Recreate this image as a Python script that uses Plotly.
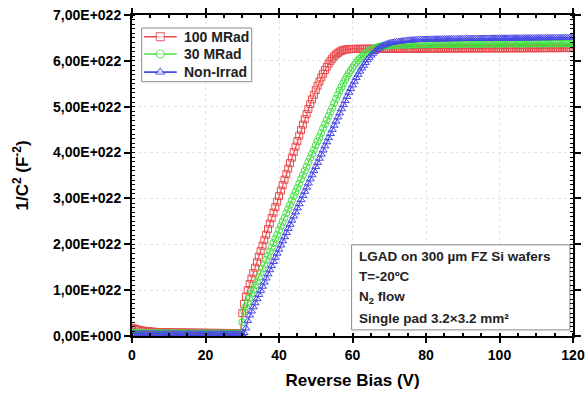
import numpy as np
import plotly.graph_objects as go

# Reverse bias sweep, 0.5 V steps from 0 to 120 V
bias_start, bias_step = 0.0, 0.5

# 1/C^2 in units of 1e22 F^-2, one row of ten points per 5 V
inv_c2_100mrad = [
    0.180, 0.165, 0.150, 0.140, 0.130, 0.122, 0.115, 0.110, 0.105, 0.100,
    0.097, 0.094, 0.091, 0.089, 0.087, 0.085, 0.083, 0.082, 0.081, 0.080,
    0.079, 0.078, 0.077, 0.076, 0.076, 0.075, 0.075, 0.074, 0.074, 0.073,
    0.073, 0.072, 0.072, 0.071, 0.071, 0.070, 0.070, 0.070, 0.069, 0.069,
    0.069, 0.068, 0.068, 0.068, 0.068, 0.067, 0.067, 0.067, 0.067, 0.066,
    0.066, 0.066, 0.066, 0.066, 0.065, 0.065, 0.065, 0.065, 0.065, 0.065,
    0.50, 0.70, 0.86, 1.00, 1.13, 1.25, 1.37, 1.49, 1.61, 1.73,
    1.85, 1.97, 2.09, 2.21, 2.33, 2.45, 2.57, 2.69, 2.81, 2.93,
    3.05, 3.17, 3.29, 3.41, 3.53, 3.65, 3.77, 3.89, 4.01, 4.13,
    4.25, 4.37, 4.49, 4.61, 4.73, 4.84, 4.95, 5.06, 5.16, 5.26,
    5.36, 5.46, 5.55, 5.64, 5.72, 5.80, 5.87, 5.94, 6.00, 6.05,
    6.10, 6.14, 6.17, 6.20, 6.22, 6.235, 6.245, 6.250, 6.255, 6.258,
    6.260, 6.260, 6.261, 6.261, 6.262, 6.262, 6.262, 6.263, 6.263, 6.263,
    6.264, 6.264, 6.264, 6.265, 6.265, 6.265, 6.265, 6.266, 6.266, 6.266,
    6.266, 6.266, 6.267, 6.267, 6.267, 6.267, 6.267, 6.268, 6.268, 6.268,
    6.268, 6.268, 6.268, 6.269, 6.269, 6.269, 6.269, 6.269, 6.269, 6.270,
    6.270, 6.270, 6.270, 6.270, 6.270, 6.271, 6.271, 6.271, 6.271, 6.271,
    6.271, 6.271, 6.272, 6.272, 6.272, 6.272, 6.272, 6.272, 6.272, 6.273,
    6.273, 6.273, 6.273, 6.273, 6.273, 6.273, 6.273, 6.274, 6.274, 6.274,
    6.274, 6.274, 6.274, 6.274, 6.274, 6.274, 6.275, 6.275, 6.275, 6.275,
    6.275, 6.275, 6.275, 6.275, 6.275, 6.276, 6.276, 6.276, 6.276, 6.276,
    6.276, 6.276, 6.276, 6.276, 6.277, 6.277, 6.277, 6.277, 6.277, 6.277,
    6.277, 6.277, 6.277, 6.278, 6.278, 6.278, 6.278, 6.278, 6.278, 6.278,
    6.278, 6.278, 6.279, 6.279, 6.279, 6.279, 6.279, 6.279, 6.279, 6.279,
    6.280,
]

inv_c2_30mrad = [
    0.070, 0.068, 0.066, 0.065, 0.064, 0.063, 0.062, 0.062, 0.061, 0.061,
    0.060, 0.060, 0.060, 0.059, 0.059, 0.059, 0.059, 0.058, 0.058, 0.058,
    0.058, 0.058, 0.057, 0.057, 0.057, 0.057, 0.057, 0.057, 0.056, 0.056,
    0.056, 0.056, 0.056, 0.056, 0.056, 0.055, 0.055, 0.055, 0.055, 0.055,
    0.055, 0.055, 0.055, 0.055, 0.054, 0.054, 0.054, 0.054, 0.054, 0.054,
    0.054, 0.054, 0.054, 0.054, 0.054, 0.053, 0.053, 0.053, 0.053, 0.053,
    0.30, 0.55, 0.64, 0.73, 0.83, 0.92, 1.01, 1.10, 1.19, 1.29,
    1.38, 1.47, 1.56, 1.66, 1.75, 1.84, 1.93, 2.03, 2.12, 2.21,
    2.31, 2.40, 2.49, 2.58, 2.68, 2.77, 2.86, 2.95, 3.05, 3.14,
    3.23, 3.32, 3.42, 3.51, 3.60, 3.69, 3.79, 3.88, 3.97, 4.06,
    4.16, 4.25, 4.34, 4.43, 4.53, 4.62, 4.71, 4.80, 4.89, 4.98,
    5.08, 5.17, 5.26, 5.35, 5.43, 5.51, 5.59, 5.66, 5.73, 5.79,
    5.85, 5.91, 5.96, 6.01, 6.05, 6.09, 6.13, 6.16, 6.19, 6.22,
    6.24, 6.26, 6.28, 6.29, 6.30, 6.31, 6.32, 6.325, 6.33, 6.335,
    6.338, 6.340, 6.342, 6.344, 6.346, 6.348, 6.350, 6.351, 6.352, 6.353,
    6.354, 6.355, 6.356, 6.357, 6.358, 6.358, 6.359, 6.360, 6.360, 6.361,
    6.361, 6.362, 6.362, 6.363, 6.363, 6.364, 6.364, 6.365, 6.365, 6.365,
    6.366, 6.366, 6.367, 6.367, 6.367, 6.368, 6.368, 6.368, 6.369, 6.369,
    6.369, 6.370, 6.370, 6.370, 6.371, 6.371, 6.371, 6.372, 6.372, 6.372,
    6.372, 6.373, 6.373, 6.373, 6.374, 6.374, 6.374, 6.374, 6.375, 6.375,
    6.375, 6.375, 6.376, 6.376, 6.376, 6.376, 6.377, 6.377, 6.377, 6.377,
    6.378, 6.378, 6.378, 6.378, 6.378, 6.379, 6.379, 6.379, 6.379, 6.380,
    6.380, 6.380, 6.380, 6.380, 6.381, 6.381, 6.381, 6.381, 6.381, 6.382,
    6.382, 6.382, 6.382, 6.382, 6.382, 6.383, 6.383, 6.383, 6.383, 6.383,
    6.384,
]

inv_c2_nonirrad = [
    0.050, 0.049, 0.048, 0.048, 0.047, 0.047, 0.047, 0.046, 0.046, 0.046,
    0.046, 0.046, 0.045, 0.045, 0.045, 0.045, 0.045, 0.045, 0.045, 0.044,
    0.044, 0.044, 0.044, 0.044, 0.044, 0.044, 0.044, 0.044, 0.043, 0.043,
    0.043, 0.043, 0.043, 0.043, 0.043, 0.043, 0.043, 0.043, 0.043, 0.043,
    0.043, 0.042, 0.042, 0.042, 0.042, 0.042, 0.042, 0.042, 0.042, 0.042,
    0.042, 0.042, 0.042, 0.042, 0.042, 0.042, 0.042, 0.042, 0.042, 0.042,
    0.042, 0.07, 0.17, 0.33, 0.45, 0.54, 0.63, 0.72, 0.81, 0.90,
    0.99, 1.08, 1.17, 1.26, 1.35, 1.44, 1.53, 1.62, 1.71, 1.80,
    1.89, 1.98, 2.07, 2.16, 2.25, 2.34, 2.43, 2.52, 2.61, 2.70,
    2.79, 2.88, 2.97, 3.06, 3.15, 3.24, 3.33, 3.42, 3.51, 3.60,
    3.69, 3.78, 3.87, 3.96, 4.05, 4.14, 4.23, 4.32, 4.41, 4.50,
    4.59, 4.68, 4.77, 4.86, 4.95, 5.04, 5.13, 5.22, 5.31, 5.39,
    5.47, 5.55, 5.63, 5.70, 5.77, 5.84, 5.90, 5.96, 6.02, 6.07,
    6.12, 6.16, 6.20, 6.24, 6.27, 6.30, 6.32, 6.34, 6.36, 6.37,
    6.385, 6.395, 6.400, 6.410, 6.415, 6.420, 6.425, 6.430, 6.435, 6.440,
    6.446, 6.449, 6.452, 6.454, 6.456, 6.458, 6.460, 6.462, 6.463, 6.465,
    6.466, 6.467, 6.468, 6.469, 6.470, 6.471, 6.472, 6.473, 6.474, 6.475,
    6.476, 6.476, 6.477, 6.478, 6.478, 6.479, 6.480, 6.480, 6.481, 6.481,
    6.482, 6.483, 6.483, 6.484, 6.484, 6.485, 6.485, 6.486, 6.486, 6.487,
    6.487, 6.488, 6.488, 6.489, 6.489, 6.490, 6.490, 6.490, 6.491, 6.491,
    6.492, 6.492, 6.493, 6.493, 6.493, 6.494, 6.494, 6.495, 6.495, 6.495,
    6.496, 6.496, 6.497, 6.497, 6.497, 6.498, 6.498, 6.498, 6.499, 6.499,
    6.499, 6.500, 6.500, 6.500, 6.501, 6.501, 6.501, 6.502, 6.502, 6.502,
    6.503, 6.503, 6.503, 6.504, 6.504, 6.504, 6.505, 6.505, 6.505, 6.505,
    6.506,
]

series_names = ["100 MRad", "30 MRad", "Non-Irrad"]
y_tick_values = [0, 1, 2, 3, 4, 5, 6, 7]
y_tick_labels = ["0,00E+000", "1,00E+022", "2,00E+022", "3,00E+022",
                 "4,00E+022", "5,00E+022", "6,00E+022", "7,00E+022"]
x_tick_values = [0, 20, 40, 60, 80, 100, 120]
info_lines = ["LGAD on 300 µm FZ Si wafers", "T=-20ºC",
              "N<sub>2</sub> flow", "Single pad 3.2×3.2 mm²"]

FONT = "Liberation Sans, Arial, sans-serif"
colors = ["#e84a4d", "#44e044", "#4848e6"]
symbols = ["square-open", "circle-open", "triangle-up-open"]
key_symbols = ["square", "circle", "triangle-up"]

fig = go.Figure()
for name, vals, col, sym in zip(series_names,
                                [inv_c2_100mrad, inv_c2_30mrad, inv_c2_nonirrad],
                                colors, symbols):
    bias = bias_start + bias_step * np.arange(len(vals))
    fig.add_trace(go.Scatter(
        x=bias, y=vals, name=name, mode="lines+markers", showlegend=False,
        line=dict(color=col, width=1.2),
        marker=dict(symbol=sym, size=7, color=col, line=dict(width=1, color=col)),
    ))

# Boxed key and condition panel, drawn on a hidden overlay axis spanning [0, 1]
def panel(x0, x1, y0, y1):
    fig.add_trace(go.Scatter(
        x=[x0, x1, x1, x0, x0], y=[y0, y0, y1, y1, y0], xaxis="x2", yaxis="y2",
        mode="lines", fill="toself", fillcolor="white",
        line=dict(color="#8a8a8a", width=1), showlegend=False, hoverinfo="skip"))

panel(0.022, 0.2714, 0.7922, 0.9595)
panel(0.498, 0.993, 0.019, 0.284)

key_rows = [0.9324, 0.8785, 0.8220]
for name, col, sym, ry in zip(series_names, colors, key_symbols, key_rows):
    fig.add_trace(go.Scatter(
        x=[0.0272, 0.0642, 0.1014], y=[ry, ry, ry], xaxis="x2", yaxis="y2",
        mode="lines+markers", line=dict(color=col, width=1.6),
        marker=dict(symbol=sym, size=[0, 8, 0], color="white",
                    line=dict(width=1.2, color=col)),
        showlegend=False, hoverinfo="skip"))
    fig.add_annotation(text=name, xref="paper", yref="paper", x=0.1127, y=ry,
                       xanchor="left", yanchor="middle", showarrow=False,
                       font=dict(family=FONT, size=14, color="#222222", weight="bold"))

for txt, yy in zip(info_lines, [0.247, 0.184, 0.121, 0.055]):
    fig.add_annotation(text=txt, xref="paper", yref="paper", x=0.51, y=yy,
                       xanchor="left", yanchor="middle", showarrow=False,
                       font=dict(family=FONT, size=13.5, color="#222222", weight="bold"))

axis_common = dict(
    showline=True, linecolor="black", linewidth=2, mirror="allticks",
    ticks="outside", tickwidth=2, tickcolor="black",
    showgrid=True, gridcolor="#e3e3e3", griddash="dot", gridwidth=1,
    zeroline=False, automargin=False,
    tickfont=dict(family=FONT, size=14, color="black", weight="bold"),
)

fig.update_xaxes(
    range=[0, 120], tickvals=x_tick_values, ticklen=5,
    minor=dict(dtick=5, ticks="inside", ticklen=3, tickwidth=1.5, tickcolor="black"),
    title=dict(text="Reverse Bias (V)", standoff=12,
               font=dict(family=FONT, size=17, color="black", weight="bold")),
    **axis_common,
)
fig.update_yaxes(
    range=[0, 7], tickvals=y_tick_values, ticktext=y_tick_labels, ticklen=6,
    minor=dict(dtick=0.1, ticks="inside", ticklen=3, tickwidth=1.2, tickcolor="black"),
    title=dict(text="1/C<sup>2</sup> (F<sup>-2</sup>)", standoff=20,
               font=dict(family=FONT, size=17, color="black", weight="bold")),
    **axis_common,
)

fig.update_layout(
    width=587, height=397,
    margin=dict(l=132, r=14, t=15, b=61),
    paper_bgcolor="white", plot_bgcolor="white",
    font=dict(family=FONT),
    showlegend=False,
    xaxis2=dict(overlaying="x", range=[0, 1], visible=False, fixedrange=True),
    yaxis2=dict(overlaying="y", range=[0, 1], visible=False, fixedrange=True),
)

fig.write_html("out.html")
